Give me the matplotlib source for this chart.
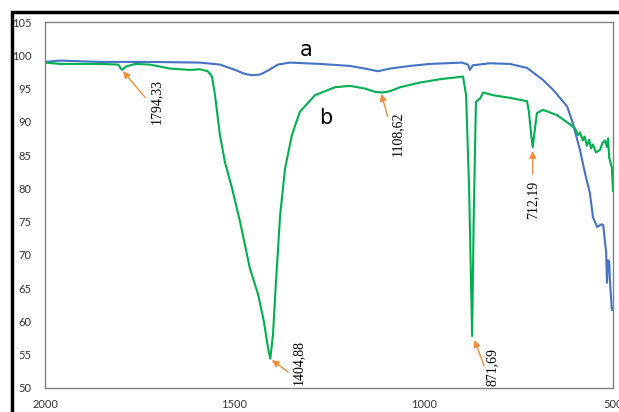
import matplotlib.pyplot as plt
from matplotlib.patches import Rectangle

# spectrum a (blue)
wn_a = [2000, 1960, 1855, 1723, 1591, 1538, 1498, 1472, 1453, 1432, 1411, 1385,
        1353, 1274, 1195, 1155, 1121, 1089, 1036, 983, 899, 883, 878, 870, 825,
        772, 727, 685, 658, 640, 621, 606, 587, 574, 561, 553, 542, 530, 526,
        518, 516, 513, 510, 508, 503, 500]
t_a = [99.0, 99.2, 99.0, 99.0, 98.9, 98.6, 97.8, 97.2, 97.0, 97.1, 97.7, 98.6,
       98.9, 98.7, 98.4, 98.0, 97.6, 98.0, 98.4, 98.7, 98.9, 98.6, 97.8, 98.5, 98.8,
       98.7, 98.1, 96.3, 94.8, 93.6, 92.3, 89.8, 85.7, 82.3, 79.3, 75.7, 74.2, 74.6, 74.5,
       70.3, 65.8, 69.2, 69.0, 66.0, 61.7, 62.0]

# spectrum b (green)
wn_b = [2000, 1960, 1855, 1807, 1797, 1786, 1762, 1723, 1670, 1617, 1591, 1570,
        1559, 1551, 1538, 1525, 1506, 1485, 1459, 1437, 1422, 1411, 1405, 1398,
        1390, 1379, 1366, 1348, 1327, 1287, 1234, 1195, 1155, 1128, 1109, 1089,
        1062, 1010, 957, 896, 888, 880, 872, 868, 862, 851, 843, 817, 772, 727,
        722, 716, 712, 706, 701, 685, 648, 613, 600, 592, 587, 580, 575, 569, 563,
        558, 553, 545, 534, 528, 521, 516, 513, 510, 503, 500]
t_b = [98.9, 98.7, 98.7, 98.6, 97.8, 98.3, 98.7, 98.6, 98.0, 97.8, 97.9, 97.6,
       96.8, 94.0, 88.0, 84.0, 80.0, 75.0, 68.0, 64.0, 60.0, 56.0, 54.4, 58.0,
       66.0, 76.0, 83.0, 88.0, 91.5, 94.0, 95.2, 95.4, 95.0, 94.5, 94.4, 94.6,
       95.2, 95.9, 96.4, 96.8, 94.0, 80.0, 57.8, 75.0, 93.0, 93.5, 94.4, 94.0, 93.6, 93.1,
       91.5, 88.0, 86.2, 89.0, 91.3, 91.8, 91.0, 89.6, 89.0, 88.0, 88.4, 87.2, 87.8, 86.4, 87.3,
       86.0, 86.6, 85.4, 85.8, 86.8, 87.2, 86.2, 87.5, 84.6, 83.1, 79.6]

# peak labels: (text, peak position, arrow tail, text position)
peaks = ['1794,33', '1404,88', '1108,62', '871,69', '712,19']
peak_xy = [(1794, 97.6), (1401, 54.2), (1112, 94.2), (866, 57.2), (712, 85.6)]
tail_xy = [(1736, 93.7), (1358, 52.4), (1095, 90.8), (840, 53.3), (712, 82.2)]
text_xy = [(1707, 93.0), (1330, 53.8), (1070, 88.2), (818, 53.2), (713, 78.3)]

fig = plt.figure(figsize=(6.19, 4.12), dpi=100)
ax = fig.add_axes([0.0727, 0.0583, 0.9176, 0.8883])

ax.plot(wn_a, t_a, color='#4472C4', lw=1.5)
ax.plot(wn_b, t_b, color='#00B050', lw=1.5)

for lab, p, t, tx in zip(peaks, peak_xy, tail_xy, text_xy):
    ax.annotate('', xy=p, xytext=t,
                arrowprops=dict(arrowstyle='-|>', color='#F28C3A', lw=1,
                                mutation_scale=10, shrinkA=0, shrinkB=0))
    ax.text(tx[0], tx[1], lab, rotation=90, ha='center', va='center',
            fontsize=10, family='Liberation Serif')

ax.text(1311, 100.8, 'a', fontsize=15, ha='center', va='center')
ax.text(1258, 90.5, 'b', fontsize=15, ha='center', va='center')

ax.set_xlim(2000, 500)
ax.set_ylim(50, 105)
ax.set_xticks([2000, 1500, 1000, 500])
ax.set_yticks(range(50, 106, 5))
ax.tick_params(length=0, labelsize=8, colors='#333333')
ax.tick_params(axis='y', pad=10)
ax.tick_params(axis='x', pad=8)
for lbl in ax.get_xticklabels() + ax.get_yticklabels():
    lbl.set_family('Lato')
for s in ax.spines.values():
    s.set_color('#808080')
    s.set_linewidth(1)

# outer frame of the original picture
fig.patches.append(Rectangle((12 / 619, -0.1), 1.2, 1 - 12 / 412 + 0.1,
                             transform=fig.transFigure, fill=False,
                             edgecolor='black', lw=2.5))

fig.savefig('out.png', dpi=100)
